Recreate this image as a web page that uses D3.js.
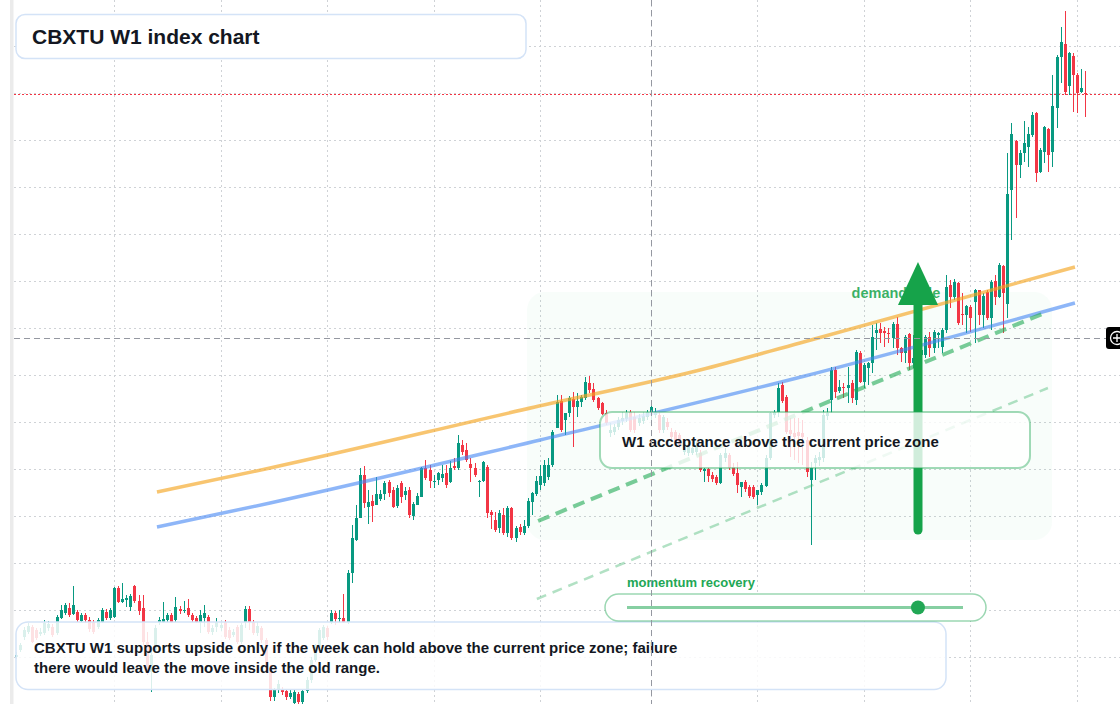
<!DOCTYPE html>
<html>
<head>
<meta charset="utf-8">
<script src="https://cdn.jsdelivr.net/npm/d3@7"></script>
<style>
  html, body { margin: 0; padding: 0; background: #fff; }
  svg { display: block; font-family: "Liberation Sans", Arial, sans-serif; }
</style>
</head>
<body>
<svg id="chart" width="1120" height="704"></svg>
<script>
// weekly bars, [open, high, low, close]
const bars = [
  [1047,1052,1045,1049],[1054,1061,1052,1059],[1067,1077,1064,1074],[1072,1081,1070,1078],[1077,1079,1061,1062],
  [1074,1076,1064,1066],[1070,1076,1068,1072],[1071,1084,1069,1081],[1076,1083,1073,1080],[1077,1080,1067,1069],
  [1071,1089,1069,1087],[1086,1099,1085,1094],[1091,1101,1089,1099],[1096,1101,1087,1089],[1090,1118,1089,1099],
  [1092,1094,1082,1084],[1083,1091,1082,1089],[1089,1091,1081,1084],[1084,1087,1072,1075],[1082,1084,1070,1072],
  [1077,1086,1075,1084],[1082,1096,1081,1094],[1092,1095,1084,1086],[1086,1096,1084,1094],[1087,1117,1086,1116],
  [1116,1118,1101,1102],[1102,1121,1101,1105],[1104,1109,1097,1106],[1097,1110,1093,1108],[1118,1119,1101,1103],
  [1103,1109,1089,1093],[1096,1109,1059,1062],[1062,1072,1029,1032],[1032,1054,1012,1049],[1054,1079,1052,1076],
  [1082,1087,1079,1084],[1082,1102,1081,1085],[1084,1091,1082,1089],[1089,1091,1081,1082],[1084,1107,1082,1097],
  [1095,1098,1090,1093],[1093,1103,1091,1094],[1096,1105,1087,1089],[1089,1091,1082,1084],[1086,1088,1081,1082],
  [1082,1094,1071,1089],[1086,1099,1077,1091],[1087,1089,1070,1072],[1072,1079,1069,1076],[1077,1086,1072,1082],
  [1076,1082,1073,1079],[1082,1084,1065,1067],[1074,1077,1064,1066],[1069,1075,1067,1072],[1077,1079,1060,1062],
  [1062,1081,1060,1079],[1082,1098,1076,1095],[1095,1098,1074,1082],[1082,1084,1069,1071],[1071,1082,1068,1078],
  [1076,1078,1061,1064],[1064,1066,1032,1036],[1036,1039,1003,1007],[1007,1016,1003,1014],[1014,1024,1011,1020],
  [1014,1017,1009,1012],[1013,1015,1004,1007],[1007,1014,1005,1011],[1001,1014,998,1012],[1010,1012,999,1002],
  [1002,1015,999,1013],[1013,1027,1011,1024],[1024,1047,1021,1044],[1044,1060,1042,1057],[1057,1076,1055,1074],
  [1066,1079,1064,1077],[1076,1078,1064,1067],[1082,1094,1080,1091],[1091,1093,1079,1085],[1085,1094,1082,1086],
  [1086,1110,1081,1082],[1082,1134,1080,1131],[1131,1179,1121,1166],[1164,1199,1163,1186],[1186,1236,1186,1229],
  [1229,1238,1196,1201],[1197,1214,1180,1202],[1203,1209,1182,1198],[1199,1227,1199,1210],[1205,1214,1203,1210],
  [1210,1223,1204,1221],[1222,1224,1207,1211],[1214,1217,1196,1197],[1198,1219,1196,1216],[1221,1223,1201,1207],
  [1209,1217,1204,1213],[1214,1217,1186,1189],[1188,1202,1184,1200],[1199,1211,1199,1208],[1207,1237,1207,1236],
  [1236,1244,1224,1226],[1234,1239,1216,1223],[1222,1229,1216,1223],[1224,1232,1219,1231],[1226,1239,1222,1230],
  [1231,1239,1216,1219],[1222,1243,1221,1236],[1238,1246,1234,1236],[1236,1269,1234,1261],[1259,1264,1249,1252],
  [1254,1261,1242,1244],[1240,1246,1222,1236],[1236,1241,1227,1229],[1222,1224,1207,1223],[1223,1243,1222,1242],
  [1237,1239,1186,1191],[1192,1194,1175,1189],[1184,1192,1172,1174],[1176,1194,1171,1191],[1189,1196,1169,1171],
  [1171,1198,1167,1196],[1196,1197,1164,1166],[1166,1178,1162,1176],[1177,1180,1169,1172],[1171,1184,1169,1178],
  [1178,1206,1176,1203],[1202,1212,1189,1211],[1210,1228,1208,1223],[1219,1239,1214,1228],[1221,1244,1218,1239],
  [1227,1246,1224,1239],[1239,1274,1237,1272],[1276,1309,1276,1302],[1303,1309,1272,1274],[1284,1291,1269,1291],
  [1291,1308,1287,1306],[1305,1312,1257,1297],[1297,1311,1287,1303],[1302,1309,1297,1307],[1306,1327,1304,1322],
  [1321,1328,1311,1314],[1315,1321,1302,1304],[1306,1307,1294,1296],[1301,1302,1289,1290],[1291,1294,1279,1281],
  [1271,1281,1267,1274],[1272,1280,1269,1277],[1277,1287,1274,1284],[1283,1292,1279,1286],[1285,1294,1282,1291],
  [1292,1294,1272,1274],[1287,1292,1271,1274],[1281,1290,1278,1286],[1283,1292,1280,1288],[1287,1294,1284,1292],
  [1292,1304,1281,1297],[1289,1296,1286,1292],[1289,1292,1271,1274],[1274,1289,1271,1287],[1282,1286,1274,1277],
  [1272,1276,1264,1267],[1272,1274,1258,1261],[1269,1271,1256,1259],[1252,1264,1249,1262],[1251,1262,1248,1259],
  [1251,1259,1249,1256],[1252,1262,1249,1259],[1251,1254,1232,1234],[1233,1236,1222,1235],[1235,1236,1222,1228],
  [1229,1232,1222,1225],[1227,1229,1219,1221],[1221,1251,1220,1249],[1246,1256,1242,1251],[1249,1251,1234,1236],
  [1237,1241,1228,1230],[1231,1242,1211,1219],[1217,1222,1207,1222],[1222,1224,1212,1215],[1217,1219,1206,1208],
  [1217,1219,1205,1207],[1209,1214,1199,1214],[1212,1221,1209,1219],[1218,1249,1217,1246],[1246,1292,1244,1291],
  [1289,1294,1286,1292],[1292,1321,1287,1316],[1319,1322,1301,1303],[1307,1309,1270,1272],[1274,1286,1247,1270],
  [1271,1286,1244,1267],[1272,1286,1241,1268],[1271,1284,1239,1267],[1264,1267,1227,1232],[1224,1242,1159,1236],
  [1241,1249,1224,1246],[1244,1252,1238,1247],[1246,1294,1242,1289],[1288,1296,1284,1291],[1304,1337,1291,1334],
  [1334,1337,1306,1312],[1313,1324,1311,1317],[1317,1321,1306,1316],[1316,1337,1301,1319],[1321,1324,1301,1306],
  [1304,1354,1299,1352],[1351,1353,1321,1322],[1322,1341,1316,1339],[1336,1342,1319,1341],[1341,1379,1331,1367],
  [1371,1381,1354,1374],[1375,1381,1361,1371],[1373,1377,1357,1371],[1371,1376,1361,1370],[1366,1382,1356,1380],
  [1380,1387,1349,1356],[1356,1357,1342,1351],[1351,1369,1341,1367],[1370,1371,1334,1341],[1341,1369,1336,1346],
  [1344,1369,1339,1359],[1349,1359,1342,1354],[1349,1369,1346,1367],[1367,1372,1347,1356],[1356,1374,1351,1372],
  [1369,1372,1356,1371],[1357,1376,1351,1374],[1374,1429,1371,1417],[1419,1424,1396,1407],[1407,1425,1404,1422],
  [1421,1422,1379,1381],[1390,1411,1379,1389],[1389,1399,1371,1398],[1397,1399,1372,1386],[1402,1415,1361,1414],
  [1414,1414,1379,1389],[1389,1411,1376,1408],[1412,1414,1384,1386],[1386,1424,1374,1422],[1423,1429,1399,1407],
  [1407,1441,1406,1439],[1438,1439,1371,1411],[1400,1551,1386,1510],[1514,1581,1464,1570],[1563,1564,1486,1539],
  [1539,1554,1526,1551],[1551,1583,1542,1561],[1557,1577,1537,1570],[1569,1592,1567,1589],[1591,1592,1522,1531],
  [1532,1556,1531,1554],[1552,1578,1541,1577],[1575,1576,1532,1549],[1552,1629,1537,1598],[1596,1649,1576,1647],
  [1647,1677,1621,1662],[1660,1693,1609,1612],[1618,1652,1609,1651],[1648,1651,1592,1629],[1629,1631,1591,1611],
  [1612,1635,1611,1616],[1611,1633,1587,1610]
];

const gridWeeks = [24, 50, 76, 102, 128, 155, 181, 207, 233, 259];
const gridPrices = [1000, 1047, 1094, 1141, 1188, 1235, 1282, 1329, 1376, 1423, 1470, 1517, 1564, 1611, 1658];
const lastPrice = 1610;
const crosshair = { week: 155, price: 1366 };

// trend channel, [week, price]
const upperLine = [[34.5, 1212], [62.1, 1236], [126.7, 1297], [167, 1334], [191.4, 1361], [258.5, 1437]];
const lowerLine = [[34.5, 1177], [62.1, 1201], [128, 1264], [192.6, 1328], [258.5, 1401]];
const supportLine = [[127.5, 1183], [251.7, 1392]];
const supportLine2 = [[127.2, 1105], [251.9, 1316]];
const zone = { from: 124.8, to: 252.9, low: 1164, high: 1412 };
const arrow = { week: 220.2, from: 1174, to: 1442 };
const demandLabel = { week: 204, price: 1406, text: "demand side" };
const momentum = 0.866;

const titleText = "CBXTU W1 index chart";
const acceptText = "W1 acceptance above the current price zone";
const noteLines = [
  "CBXTU W1 supports upside only if the week can hold above the current price zone; failure",
  "there would leave the move inside the old range."
];

const width = 1120, height = 704;
const upColor = "#089981", downColor = "#f23645";
const green = "#16a34a";
const ink = "#131722";

const svg = d3.select("#chart");

const x = d3.scaleLinear().domain([0, bars.length - 1]).range([15.6, 1085.2]);
const y = d3.scaleLinear().domain([1000, 1704]).range([height, 0]);
const px = (v) => Math.round(v) + 0.5;

// left strip
svg.append("rect").attr("x", 10).attr("y", 0).attr("width", 3.5).attr("height", height).attr("fill", "#ebebeb");

// grid
const grid = svg.append("g").attr("stroke", "#cfd2d6").attr("stroke-dasharray", "2 3");
grid.selectAll(".gh")
  .data(gridPrices)
  .enter()
  .append("line")
  .attr("x1", 14).attr("x2", width)
  .attr("y1", (d) => px(y(d))).attr("y2", (d) => px(y(d)));
grid.selectAll(".gv")
  .data(gridWeeks)
  .enter()
  .append("line")
  .attr("x1", (d) => px(x(d))).attr("x2", (d) => px(x(d)))
  .attr("y1", 0).attr("y2", height);

// green zone
svg.append("rect")
  .attr("x", x(zone.from))
  .attr("y", y(zone.high))
  .attr("width", x(zone.to) - x(zone.from))
  .attr("height", y(zone.low) - y(zone.high))
  .attr("rx", 18)
  .attr("fill", "rgba(34,197,94,0.032)");

// red last price line
svg.append("line")
  .attr("x1", 14).attr("x2", width)
  .attr("y1", px(y(lastPrice))).attr("y2", px(y(lastPrice)))
  .attr("stroke", downColor)
  .attr("stroke-dasharray", "2 2");

// candles
const candles = svg.append("g");
const cg = candles.selectAll("g")
  .data(bars)
  .enter()
  .append("g")
  .attr("fill", (d) => (d[3] >= d[0] ? upColor : downColor))
  .attr("stroke", (d) => (d[3] >= d[0] ? upColor : downColor));
cg.append("line")
  .attr("x1", (d, i) => px(x(i))).attr("x2", (d, i) => px(x(i)))
  .attr("y1", (d) => y(d[1])).attr("y2", (d) => y(d[2]))
  .attr("stroke-width", 1);
cg.append("rect")
  .attr("stroke", "none")
  .attr("x", (d, i) => Math.round(x(i)) - 1)
  .attr("width", 3)
  .attr("y", (d) => y(Math.max(d[0], d[3])))
  .attr("height", (d) => Math.max(1, Math.abs(y(d[0]) - y(d[3]))));

// channel lines
const line = d3.line()
  .x((d) => x(d[0]))
  .y((d) => y(d[1]))
  .curve(d3.curveMonotoneX);

svg.append("path").datum(upperLine)
  .attr("d", line).attr("fill", "none")
  .attr("stroke", "rgba(245,166,35,0.65)").attr("stroke-width", 3.5);
svg.append("path").datum(lowerLine)
  .attr("d", line).attr("fill", "none")
  .attr("stroke", "rgba(66,133,244,0.6)").attr("stroke-width", 3.5);
svg.append("path").datum(supportLine)
  .attr("d", line).attr("fill", "none")
  .attr("stroke", "rgba(34,170,85,0.6)").attr("stroke-width", 4)
  .attr("stroke-dasharray", "12 7");
svg.append("path").datum(supportLine2)
  .attr("d", line).attr("fill", "none")
  .attr("stroke", "rgba(34,170,85,0.35)").attr("stroke-width", 2.5)
  .attr("stroke-dasharray", "10 7");

// demand arrow
svg.append("text")
  .attr("x", x(demandLabel.week))
  .attr("y", y(demandLabel.price))
  .attr("font-size", 14.5).attr("font-weight", "bold")
  .attr("fill", "rgba(22,163,74,0.85)")
  .text(demandLabel.text);

const ax = x(arrow.week);
const headBase = y(arrow.to) + 43;
svg.append("line")
  .attr("x1", ax).attr("x2", ax)
  .attr("y1", y(arrow.from)).attr("y2", headBase)
  .attr("stroke", green).attr("stroke-width", 9).attr("stroke-linecap", "round");
svg.append("path")
  .attr("d", `M${ax - 20},${headBase} L${ax + 20},${headBase} L${ax},${y(arrow.to)} Z`)
  .attr("fill", green);

// title box
svg.append("rect")
  .attr("x", 16).attr("y", 14.5).attr("width", 510).attr("height", 44).attr("rx", 9)
  .attr("fill", "#fff").attr("stroke", "#d4e3f7").attr("stroke-width", 1.5);
svg.append("text")
  .attr("x", 32).attr("y", 43.5)
  .attr("font-size", 21).attr("font-weight", "bold").attr("fill", ink)
  .text(titleText);

// acceptance box
svg.append("rect")
  .attr("x", 600).attr("y", 412).attr("width", 430).attr("height", 56).attr("rx", 12)
  .attr("fill", "rgba(255,255,255,0.8)")
  .attr("stroke", "rgba(34,167,85,0.42)").attr("stroke-width", 2);
svg.append("text")
  .attr("x", 622).attr("y", 447)
  .attr("font-size", 15).attr("font-weight", "bold").attr("fill", ink)
  .text(acceptText);

// bottom note
svg.append("rect")
  .attr("x", 16).attr("y", 622).attr("width", 930).attr("height", 67.5).attr("rx", 12)
  .attr("fill", "rgba(255,255,255,0.85)")
  .attr("stroke", "#d4e3f7").attr("stroke-width", 1.5);
svg.append("g")
  .selectAll("text")
  .data(noteLines)
  .enter()
  .append("text")
  .attr("x", 34)
  .attr("y", (d, i) => 653 + i * 20)
  .attr("font-size", 15).attr("font-weight", "bold").attr("fill", ink)
  .text((d) => d);

// momentum slider
svg.append("text")
  .attr("x", 627).attr("y", 587)
  .attr("font-size", 13).attr("font-weight", "bold").attr("fill", "#22a755")
  .text("momentum recovery");
svg.append("rect")
  .attr("x", 605).attr("y", 594).attr("width", 381).attr("height", 27).attr("rx", 13.5)
  .attr("fill", "#fff")
  .attr("stroke", "rgba(34,167,85,0.45)").attr("stroke-width", 1.5);
const track = d3.scaleLinear().domain([0, 1]).range([627, 963]);
svg.append("line")
  .attr("x1", track(0)).attr("x2", track(1))
  .attr("y1", 607.5).attr("y2", 607.5)
  .attr("stroke", "rgba(34,167,85,0.55)").attr("stroke-width", 3);
svg.append("circle")
  .attr("cx", track(momentum)).attr("cy", 607.5).attr("r", 7)
  .attr("fill", "#22a755");

// crosshair
const ch = svg.append("g").attr("stroke", "#9598a1").attr("stroke-dasharray", "6 4");
ch.append("line")
  .attr("x1", px(x(crosshair.week))).attr("x2", px(x(crosshair.week)))
  .attr("y1", 0).attr("y2", height);
ch.append("line")
  .attr("x1", 14).attr("x2", 1106)
  .attr("y1", px(y(crosshair.price))).attr("y2", px(y(crosshair.price)));

const cy = y(crosshair.price);
svg.append("rect")
  .attr("x", 1106).attr("y", cy - 11).attr("width", 22).attr("height", 22).attr("rx", 3)
  .attr("fill", "#000");
svg.append("circle")
  .attr("cx", 1117).attr("cy", cy).attr("r", 6.5)
  .attr("fill", "none").attr("stroke", "#fff").attr("stroke-width", 1.3);
svg.append("path")
  .attr("d", `M1113,${cy} H1121 M1117,${cy - 4} V${cy + 4}`)
  .attr("stroke", "#fff").attr("stroke-width", 1.3);
</script>
</body>
</html>
